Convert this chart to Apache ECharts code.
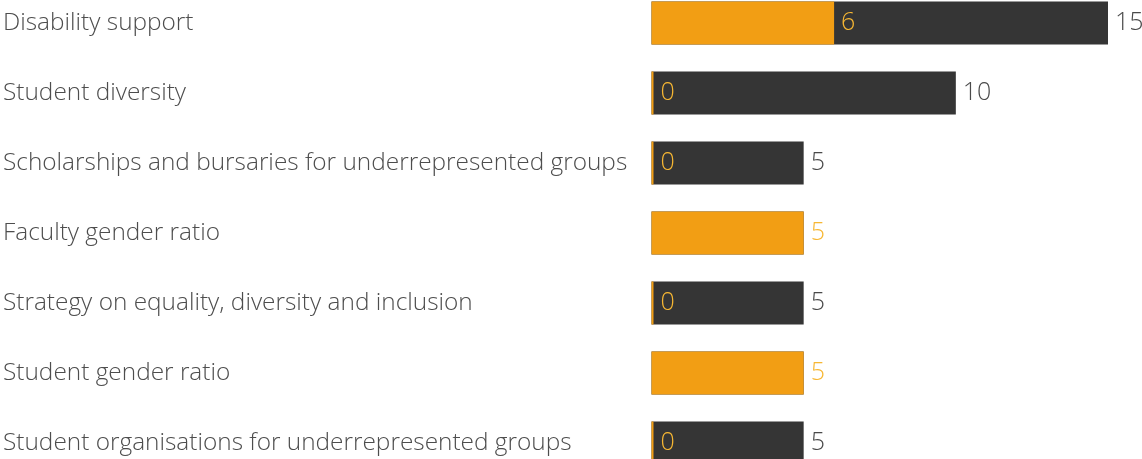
<!DOCTYPE html>
<html>
<head>
<meta charset="utf-8">
<script src="https://cdn.jsdelivr.net/npm/echarts@6/dist/echarts.min.js"></script>
<style>
  html, body { margin: 0; padding: 0; background: #fff; overflow: hidden; }
  #chart { position: absolute; left: 0; top: -12.5px; width: 1142px; height: 490px; }
</style>
</head>
<body>
<div id="chart"></div>
<script>
var categories = [
  "Disability support",
  "Student diversity",
  "Scholarships and bursaries for underrepresented groups",
  "Faculty gender ratio",
  "Strategy on equality, diversity and inclusion",
  "Student gender ratio",
  "Student organisations for underrepresented groups"
];
var maxScores = [15, 10, 5, 5, 5, 5, 5];
var scores = [6, 0, 0, 5, 0, 5, 0];

var FONT = "Open Sans";
var chart = echarts.init(document.getElementById("chart"));

var maxData = maxScores.map(function(v, i) {
  return {
    value: v,
    label: { show: scores[i] !== v }
  };
});

chart.setOption({
  animation: false,
  grid: { left: 650.5, width: 457.5, top: 0, bottom: 0 },
  xAxis: {
    type: "value",
    min: 0,
    max: 15,
    show: false
  },
  yAxis: {
    type: "category",
    inverse: true,
    data: categories,
    axisLine: { show: false },
    axisTick: { show: false },
    axisLabel: {
      align: "left",
      margin: 648.5,
      color: "#4d4d4d",
      fontFamily: FONT,
      fontWeight: 300,
      fontSize: 24.4
    }
  },
  series: [
    {
      name: "Max",
      type: "bar",
      data: maxData,
      barWidth: 43,
      barGap: "-100%",
      itemStyle: { color: "#353535" },
      label: {
        position: "right",
        distance: 7,
        color: "#4a4a4a",
        fontFamily: FONT,
        fontWeight: 300,
        fontSize: 25
      }
    },
    {
      name: "Score",
      type: "bar",
      data: scores,
      barWidth: 43,
      barMinHeight: 2,
      itemStyle: { color: "#f29e14" },
      label: {
        show: true,
        position: "right",
        distance: 7,
        color: "#f7b733",
        fontFamily: FONT,
        fontWeight: 300,
        fontSize: 25
      }
    }
  ]
});
</script>
</body>
</html>
